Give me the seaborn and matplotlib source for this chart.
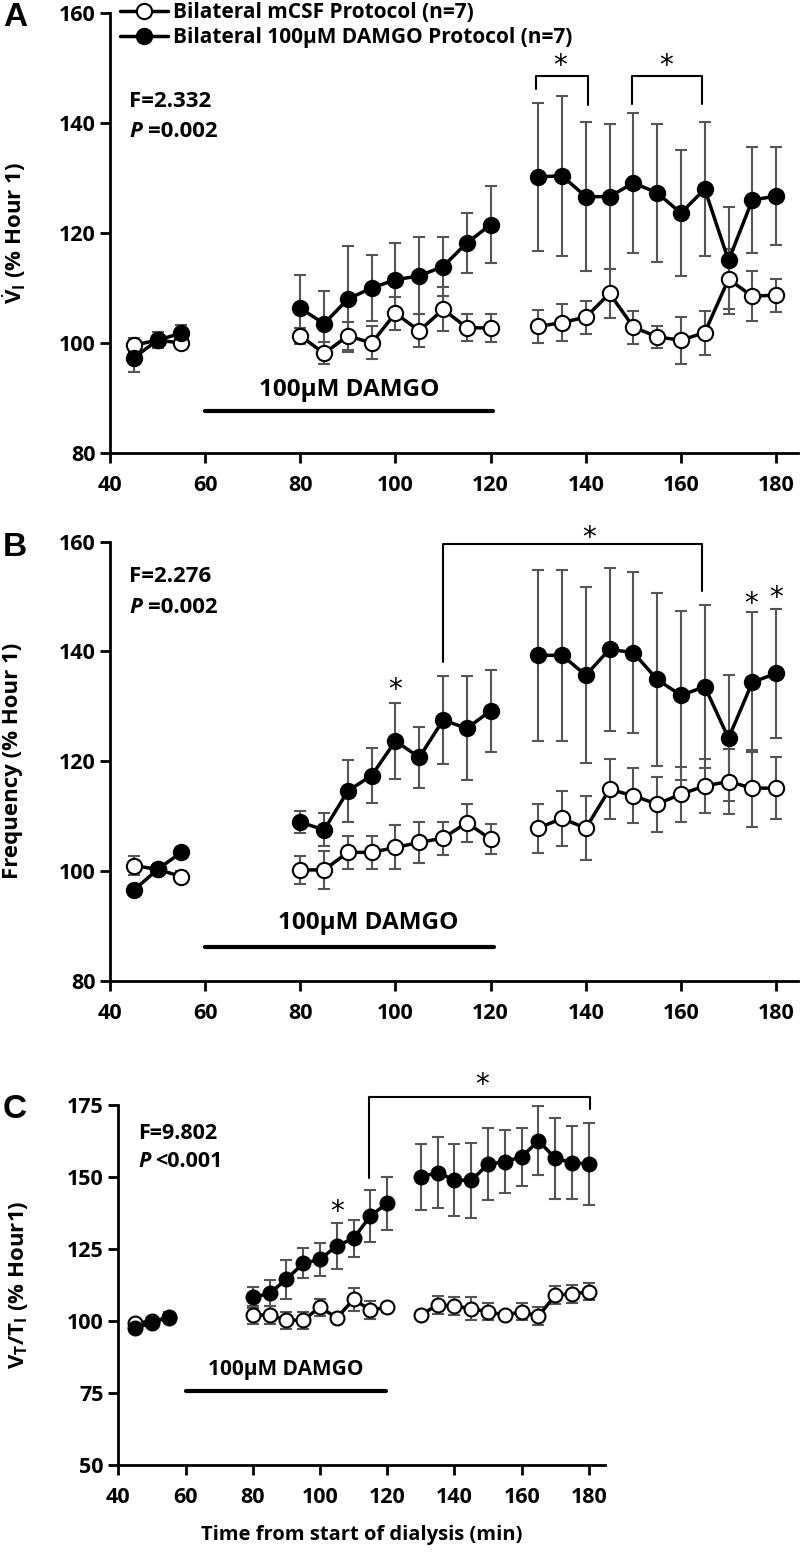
import numpy as np
import pandas as pd
import matplotlib
matplotlib.use('Agg')
import matplotlib.pyplot as plt
from matplotlib.lines import Line2D
import seaborn as sns

sns.set_style('ticks')
plt.rcParams['font.family'] = ['Open Sans', 'DejaVu Sans']
plt.rcParams['font.weight'] = 'bold'
plt.rcParams['text.color'] = 'black'
plt.rcParams['axes.labelcolor'] = 'black'
plt.rcParams['mathtext.fontset'] = 'custom'
plt.rcParams['mathtext.rm'] = 'Open Sans:bold'
plt.rcParams['mathtext.bf'] = 'Open Sans:bold'
plt.rcParams['mathtext.it'] = 'Open Sans:italic:bold'

# tempo (min) e segmento de cada ponto
time = [45, 50, 55, 80, 85, 90, 95, 100, 105, 110, 115, 120,
        130, 135, 140, 145, 150, 155, 160, 165, 170, 175, 180]
seg = [0] * 3 + [1] * 9 + [2] * 11

# painel A - VI
A_csf = [99.6, 100.5, 100.0, 101.3, 98.1, 101.3, 100.0, 105.4, 102.2, 106.1, 102.8, 102.7,
         103.0, 103.7, 104.7, 109.0, 102.9, 101.1, 100.5, 101.9, 111.6, 108.5, 108.7]
A_csf_err = [1.3, 1.5, 0.8, 1.5, 2.0, 2.5, 3.0, 3.0, 3.0, 4.0, 2.5, 2.5,
             3.0, 3.3, 3.0, 4.5, 3.0, 2.0, 4.3, 4.0, 5.5, 4.5, 3.0]
A_damgo = [97.3, 100.5, 101.8, 106.3, 103.5, 108.0, 110.0, 111.5, 112.2, 113.9, 118.2, 121.5,
           130.2, 130.4, 126.6, 126.6, 129.1, 127.3, 123.6, 128.0, 115.0, 126.0, 126.7]
A_damgo_err = [2.5, 1.5, 1.5, 6.0, 6.0, 9.6, 6.0, 6.7, 7.0, 5.3, 5.4, 7.0,
               13.5, 14.5, 13.5, 13.2, 12.8, 12.6, 11.4, 12.2, 9.7, 9.7, 8.9]

# painel B - frequencia
B_csf = [101.0, 100.3, 99.0, 100.2, 100.2, 103.4, 103.4, 104.3, 105.2, 106.0, 108.8, 105.8,
         107.8, 109.6, 107.8, 114.9, 113.7, 112.2, 114.0, 115.5, 116.3, 115.1, 115.1]
B_csf_err = [1.7, 1.0, 1.0, 2.5, 3.5, 3.0, 3.0, 4.0, 3.7, 3.0, 3.5, 2.7,
             4.5, 5.0, 5.8, 5.5, 5.0, 5.0, 5.0, 5.0, 6.0, 7.0, 5.7]
B_damgo = [96.5, 100.3, 103.4, 108.9, 107.5, 114.6, 117.4, 123.7, 120.7, 127.5, 126.0, 129.2,
           139.3, 139.3, 135.7, 140.4, 139.8, 134.9, 132.0, 133.6, 124.2, 134.4, 136.0]
B_damgo_err = [0.8, 1.0, 0.8, 2.0, 3.0, 5.7, 5.0, 7.0, 5.6, 8.0, 9.5, 7.5,
               15.6, 15.6, 16.0, 14.8, 14.6, 15.7, 15.4, 14.9, 11.5, 12.8, 11.7]

# painel C - VT/TI
C_csf = [99.2, 100.0, 101.0, 102.1, 102.1, 100.3, 100.3, 104.8, 101.1, 107.5, 103.8, 104.8,
         102.1, 105.6, 105.2, 104.3, 103.2, 102.1, 103.2, 101.7, 109.0, 109.4, 110.2]
C_csf_err = [1.0, 1.0, 1.0, 3.0, 3.0, 3.0, 3.0, 3.0, 1.5, 4.0, 3.0, 1.5,
             1.5, 3.0, 3.0, 4.0, 3.0, 1.5, 3.0, 3.0, 3.0, 3.0, 3.0]
C_damgo = [97.5, 99.4, 101.5, 108.2, 109.6, 114.5, 120.0, 121.4, 126.1, 128.7, 136.5, 140.9,
           150.1, 151.5, 149.0, 148.8, 154.5, 155.3, 157.0, 162.6, 156.5, 155.0, 154.5]
C_damgo_err = [1.0, 1.0, 1.5, 3.7, 4.5, 6.7, 5.2, 5.6, 8.0, 6.3, 9.0, 9.2,
               11.4, 12.3, 12.5, 13.0, 12.4, 11.0, 10.0, 12.0, 14.0, 12.7, 14.1]

labels = ['Bilateral mCSF Protocol (n=7)', 'Bilateral 100\u00b5M DAMGO Protocol (n=7)']

fig = plt.figure(figsize=(8, 15.63), dpi=100)
axA = fig.add_axes([0.1375, 0.7102, 0.86, 0.2815])
axB = fig.add_axes([0.1375, 0.3725, 0.86, 0.2809])
axC = fig.add_axes([0.1479, 0.0627, 0.6084, 0.2303])


def draw_series(ax, vals, errs, face, ms):
    df = pd.DataFrame({'time': time, 'val': vals, 'seg': seg})
    ax.errorbar(time, vals, yerr=errs, fmt='none', ecolor='#555555',
                elinewidth=1.5, capsize=4, capthick=1.5, zorder=2)
    sns.lineplot(data=df, x='time', y='val', units='seg', estimator=None,
                 color='black', lw=2.5, marker='o', markersize=ms,
                 markerfacecolor=face, markeredgecolor='black',
                 markeredgewidth=1.5, ax=ax, zorder=3)


def style_axis(ax, ylim, yticks, xmax, size):
    ax.set_xlim(40, xmax)
    ax.set_ylim(*ylim)
    ax.set_xticks([40, 60, 80, 100, 120, 140, 160, 180])
    ax.set_yticks(yticks)
    sns.despine(ax=ax)
    for s in ['left', 'bottom']:
        ax.spines[s].set_linewidth(2)
        ax.spines[s].set_color('black')
    ax.tick_params(direction='out', length=7, width=2, labelsize=size, colors='black')
    ax.tick_params(axis='x', pad=9)
    for lab in ax.get_xticklabels() + ax.get_yticklabels():
        lab.set_fontweight('bold')
    ax.set_xlabel('')


def p_text(ax, x, y, rest, off, size):
    ax.text(x, y, 'P', fontsize=size, style='italic', weight='bold', va='center', ha='left')
    ax.annotate(rest, xy=(x, y), xytext=(off, 0), textcoords='offset points',
                fontsize=size, weight='bold', va='center', ha='left')


def bracket(ax, x1, x2, ytop, yl, yr):
    ax.plot([x1, x1, x2, x2], [yl, ytop, ytop, yr], color='black', lw=1.5, clip_on=False)


def star(ax, x, y):
    ax.text(x, y, '*', fontsize=20, weight='normal', family='DejaVu Sans',
            ha='center', va='center', clip_on=False)


# ---- A ----
draw_series(axA, A_csf, A_csf_err, 'white', 11)
draw_series(axA, A_damgo, A_damgo_err, 'black', 11)
style_axis(axA, (80, 160), [80, 100, 120, 140, 160], 184.6, 15.5)
axA.set_ylabel(r'$\mathbf{\dot{V}_I}$ (% Hour 1)', fontsize=16, weight='bold')
axA.yaxis.set_label_coords(-0.119, 0.5)
axA.text(44, 143.9, 'F=2.332', fontsize=16, va='center', ha='left')
p_text(axA, 44, 138.5, '=0.002', 14, 16)
axA.plot([60, 120.4], [87.6, 87.6], color='black', lw=3)
axA.text(90.2, 91.5, '100\u00b5M DAMGO', fontsize=17.5, ha='center', va='center')
bracket(axA, 129.5, 140.5, 148.5, 146.1, 143.3)
bracket(axA, 149.7, 164.5, 148.5, 143.5, 143.5)
star(axA, 134.6, 150.3)
star(axA, 156.8, 150.3)

# ---- B ----
draw_series(axB, B_csf, B_csf_err, 'white', 11)
draw_series(axB, B_damgo, B_damgo_err, 'black', 11)
style_axis(axB, (80, 160), [80, 100, 120, 140, 160], 184.6, 15.5)
axB.set_ylabel('Frequency (% Hour 1)', fontsize=16, weight='bold')
axB.yaxis.set_label_coords(-0.126, 0.5)
axB.text(44, 153.6, 'F=2.276', fontsize=16, va='center', ha='left')
p_text(axB, 44, 148, '=0.002', 14, 16)
axB.plot([60, 120.8], [86.1, 86.1], color='black', lw=3)
axB.text(94.2, 90.5, '100\u00b5M DAMGO', fontsize=17.5, ha='center', va='center')
bracket(axB, 110, 164.4, 159.6, 138.1, 151)
star(axB, 140.7, 160.7)
star(axB, 100, 133.0)
star(axB, 174.7, 148.6)
star(axB, 180, 149.7)

# ---- C ----
draw_series(axC, C_csf, C_csf_err, 'white', 10)
draw_series(axC, C_damgo, C_damgo_err, 'black', 10)
style_axis(axC, (50, 175), [50, 75, 100, 125, 150, 175], 184.8, 15.5)
axC.set_ylabel(r'$\mathbf{V_T/T_I}$ (% Hour1)', fontsize=16, weight='bold')
axC.yaxis.set_label_coords(-0.181, 0.5)
axC.set_xlabel('Time from start of dialysis (min)', fontsize=14.5, weight='bold', labelpad=12)
axC.text(46, 165.2, 'F=9.802', fontsize=15.5, va='center', ha='left')
p_text(axC, 46, 155.3, '<0.001', 12, 15.5)
axC.plot([60, 119.7], [75.7, 75.7], color='black', lw=3)
axC.text(89.7, 83.2, '100\u00b5M DAMGO', fontsize=15, ha='center', va='center')
bracket(axC, 114.5, 180.3, 177.9, 149.6, 173.6)
star(axC, 148.3, 182.0)
star(axC, 105, 138.0)

# legenda
handles = [Line2D([], [], color='black', lw=2.5, marker='o', ms=11, mfc='white', mec='black', mew=1.5),
           Line2D([], [], color='black', lw=2.5, marker='o', ms=11, mfc='black', mec='black', mew=1.5)]
fig.legend(handles, labels, loc='upper left', bbox_to_anchor=(120 / 800, 1 - 2 / 1563),
           frameon=False, fontsize=15, handlelength=2.3, handletextpad=0.25,
           labelspacing=0.2, borderaxespad=0, borderpad=0)

# letras dos paineis
for letter, ypx in [('A', 18), ('B', 548), ('C', 1110)]:
    fig.text(15 / 800, 1 - ypx / 1563, letter, fontsize=24, weight='bold',
             family='Liberation Sans', ha='center', va='center')

fig.savefig('out.png', dpi=100)
